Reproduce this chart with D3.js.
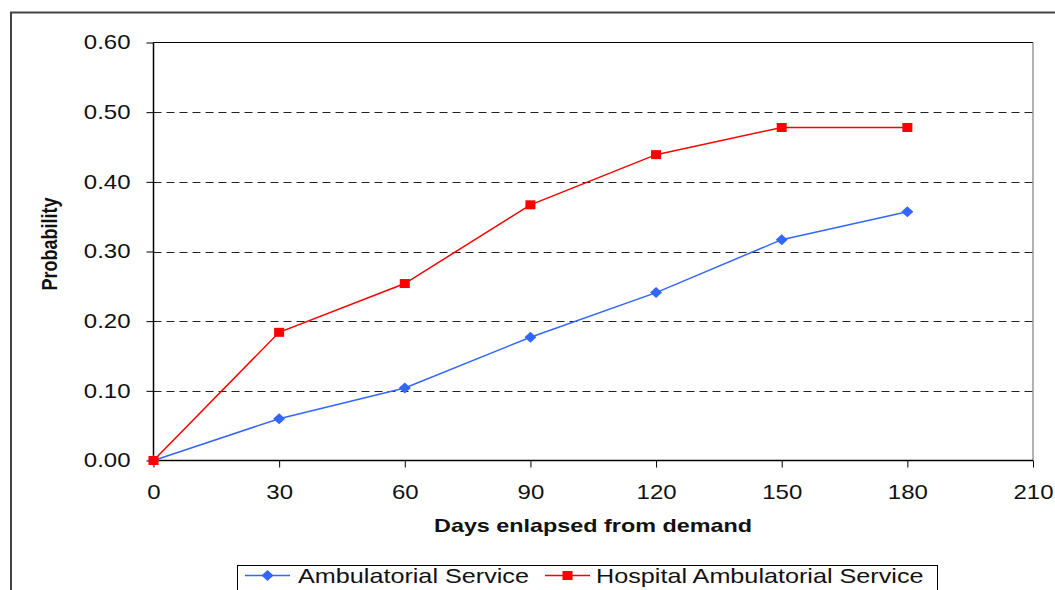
<!DOCTYPE html>
<html lang="en">
<head>
  <meta charset="UTF-8">
  <title>Probability chart</title>
  <style>
    body { margin: 0; background: #fff; }
    text { font-family: "Liberation Sans", Arial, sans-serif; }
  </style>
</head>
<body>
  <script src="https://cdn.jsdelivr.net/npm/d3@7/dist/d3.min.js"></script>
  <script>
    var width = 1055;
    var height = 590;

    // data
    var days = [0, 30, 60, 90, 120, 150, 180];
    var ambulatorial = [0, 0.060, 0.104, 0.177, 0.241, 0.317, 0.357];
    var hospital = [0, 0.184, 0.254, 0.367, 0.439, 0.478, 0.478];
    var xTicks = [0, 30, 60, 90, 120, 150, 180, 210];
    var yTicks = [0, 0.1, 0.2, 0.3, 0.4, 0.5, 0.6];
    var seriesNames = ["Ambulatorial Service", "Hospital Ambulatorial Service"];

    var plotL = 153.5, plotR = 1033, plotT = 42.5, plotB = 460.5;
    var stretch = 1.2;   // the original text is drawn a bit wide

    var svg = d3.select("body")
      .append("svg")
      .attr("width", width)
      .attr("height", height);

    // outer chart frame (only top and left visible)
    svg.append("path")
      .attr("d", "M11,600 L11,12.5 L1060,12.5")
      .attr("fill", "none")
      .attr("stroke", "#444")
      .attr("stroke-width", 2);

    var x = d3.scaleLinear().domain([0, 210]).range([plotL, plotR]);
    var y = d3.scaleLinear().domain([0, 0.6]).range([plotB, plotT]);

    // dashed gridlines
    svg.append("g")
      .selectAll("line")
      .data(yTicks.filter(function (d) { return d > 0 && d < 0.6; }))
      .enter()
      .append("line")
      .attr("x1", plotL).attr("x2", plotR)
      .attr("y1", function (d) { return Math.round(y(d)) + 0.5; })
      .attr("y2", function (d) { return Math.round(y(d)) + 0.5; })
      .attr("stroke", "#222")
      .attr("stroke-dasharray", "8,5");

    // plot frame: top line black, right line gray
    svg.append("line")
      .attr("x1", plotL).attr("x2", plotR)
      .attr("y1", plotT).attr("y2", plotT)
      .attr("stroke", "#000");
    svg.append("line")
      .attr("x1", plotR).attr("x2", plotR)
      .attr("y1", plotT).attr("y2", plotB)
      .attr("stroke", "#666");

    // axes
    var xAxis = d3.axisBottom(x).tickValues(xTicks).tickSize(7)
      .tickFormat(d3.format("d"));
    var yAxis = d3.axisLeft(y).tickValues(yTicks).tickSize(7)
      .tickFormat(d3.format(".2f"));

    var gx = svg.append("g")
      .attr("transform", "translate(0," + plotB + ")")
      .call(xAxis);
    var gy = svg.append("g")
      .attr("transform", "translate(" + plotL + ",0)")
      .call(yAxis);

    [gx, gy].forEach(function (g) {
      g.select(".domain").attr("stroke", "#000").attr("stroke-width", 1.5);
      g.selectAll(".tick line").attr("stroke", "#000");
      g.selectAll(".tick text")
        .attr("font-size", 20)
        .attr("fill", "#111")
        .attr("x", 0)
        .attr("y", 0)
        .style("font-family", "'Liberation Sans', Arial, sans-serif");
    });
    gx.selectAll(".tick text")
      .attr("transform", "translate(0,24.5) scale(" + stretch + ",1)");
    gy.selectAll(".tick text")
      .attr("transform", "translate(-23,0) scale(" + stretch + ",1)");
    gx.select(".domain").attr("d", "M" + plotL + ",0H" + plotR);
    gy.select(".domain").attr("d", "M0," + plotT + "V" + plotB);

    // axis titles
    svg.append("text")
      .attr("transform", "translate(593,532) scale(1.23,1)")
      .attr("text-anchor", "middle")
      .attr("font-size", 19)
      .attr("font-weight", "bold")
      .attr("fill", "#111")
      .text("Days enlapsed from demand");

    svg.append("text")
      .attr("transform", "translate(57,244) scale(" + stretch + ",1) rotate(-90)")
      .attr("text-anchor", "middle")
      .attr("font-size", 18)
      .attr("font-weight", "bold")
      .attr("fill", "#111")
      .text("Probability");

    var line = d3.line()
      .x(function (d) { return x(d[0]); })
      .y(function (d) { return y(d[1]); });

    var blue = "#3366ff", red = "#ff0000";
    var diamond = "M0,-5.5L6,0L0,5.5L-6,0Z";

    var ambPts = days.map(function (d, i) { return [d, ambulatorial[i]]; });
    var hosPts = days.map(function (d, i) { return [d, hospital[i]]; });

    svg.append("path")
      .datum(ambPts)
      .attr("d", line)
      .attr("fill", "none")
      .attr("stroke", blue)
      .attr("stroke-width", 1.5);
    svg.append("g")
      .selectAll("path")
      .data(ambPts)
      .enter()
      .append("path")
      .attr("d", diamond)
      .attr("transform", function (d) { return "translate(" + x(d[0]) + "," + y(d[1]) + ")"; })
      .attr("fill", blue);

    svg.append("path")
      .datum(hosPts)
      .attr("d", line)
      .attr("fill", "none")
      .attr("stroke", red)
      .attr("stroke-width", 1.5);
    svg.append("g")
      .selectAll("rect")
      .data(hosPts)
      .enter()
      .append("rect")
      .attr("x", function (d) { return x(d[0]) - 5; })
      .attr("y", function (d) { return y(d[1]) - 4.5; })
      .attr("width", 10)
      .attr("height", 9)
      .attr("fill", red);

    // legend
    var legend = svg.append("g");
    legend.append("rect")
      .attr("x", 237.5).attr("y", 565.5)
      .attr("width", 700).attr("height", 40)
      .attr("fill", "#fff")
      .attr("stroke", "#000");

    var legendItems = [
      { name: seriesNames[0], color: blue, x0: 245, tx: 298, shape: "diamond" },
      { name: seriesNames[1], color: red, x0: 545, tx: 596, shape: "square" }
    ];
    legendItems.forEach(function (it) {
      var ly = 575.5;
      legend.append("line")
        .attr("x1", it.x0).attr("x2", it.x0 + 45)
        .attr("y1", ly).attr("y2", ly)
        .attr("stroke", it.color)
        .attr("stroke-width", 1.5);
      if (it.shape === "diamond") {
        legend.append("path")
          .attr("d", diamond)
          .attr("transform", "translate(" + (it.x0 + 22.5) + "," + ly + ")")
          .attr("fill", it.color);
      } else {
        legend.append("rect")
          .attr("x", it.x0 + 17.5).attr("y", ly - 4.5)
          .attr("width", 10).attr("height", 9)
          .attr("fill", it.color);
      }
      legend.append("text")
        .attr("transform", "translate(" + it.tx + "," + (ly + 7) + ") scale(1.26,1)")
        .attr("font-size", 20)
        .attr("fill", "#111")
        .text(it.name);
    });
  </script>
</body>
</html>
